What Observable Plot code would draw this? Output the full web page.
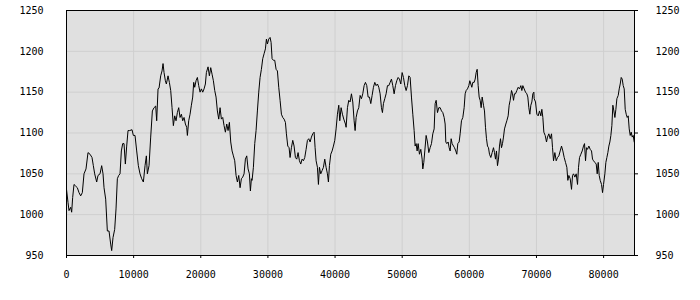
<!DOCTYPE html>
<html>
<head>
<meta charset="utf-8">
<script src="https://cdn.jsdelivr.net/npm/d3@7"></script>
<script src="https://cdn.jsdelivr.net/npm/@observablehq/plot@0.6"></script>
<style>
  html, body { margin: 0; padding: 0; background: #ffffff; }
  #chart svg { display: block; }
</style>
</head>
<body>
<div id="chart"></div>
<script>
// Tick values
const xTicks = [0, 10000, 20000, 30000, 40000, 50000, 60000, 70000, 80000];
const yTicks = [950, 1000, 1050, 1100, 1150, 1200, 1250];

// Series values, as [x, value] pairs, in six stretches
const walk1 = [[0,1031],[224,1015],[373,1005],[621,1009],[770,1003],[919,1021],[1118,1037],[1366,1035],[1614,1033],[1863,1027],[2111,1023],[2359,1027],[2608,1050],[2906,1056],[3204,1076],[3502,1074],[3800,1070],[3998,1060],[4197,1050],[4495,1040],[4694,1048],[4992,1050],[5240,1060],[5439,1050],[5588,1033],[5836,1019],[6084,980],[6333,980],[6581,964],[6730,956],[6929,972],[7177,982],[7376,1007],[7574,1044],[7773,1048],[7972,1050],[8170,1078],[8369,1087],[8568,1087],[8766,1062],[8965,1084],[9164,1103],[9412,1103],[9760,1104],[9958,1097],[10207,1097],[10455,1078],[10703,1060],[10952,1050],[11200,1044],[11448,1040],[11697,1060],[11895,1072],[12044,1050],[12293,1060],[12541,1095],[12789,1127],[13038,1131],[13286,1133],[13435,1115]];
const walk2 = [[13634,1154],[13783,1155],[14031,1170],[14230,1176],[14379,1185],[14528,1174],[14726,1164],[14875,1160],[15124,1170],[15322,1162],[15521,1152],[15720,1131],[15918,1109],[16117,1121],[16316,1115],[16514,1125],[16713,1131],[16912,1119],[17110,1123],[17309,1115],[17508,1119],[17706,1111],[17905,1107],[18004,1097],[18203,1115],[18402,1123],[18600,1134],[18799,1144],[18948,1162],[19097,1156],[19296,1164],[19494,1168],[19693,1158],[19892,1150],[20090,1154],[20289,1150],[20488,1154],[20686,1160],[20835,1174],[21084,1181],[21282,1170],[21481,1180],[21680,1172],[21878,1164],[22077,1152],[22276,1144],[22474,1127],[22673,1117],[22872,1131],[23070,1117],[23269,1119],[23468,1109],[23666,1101],[23865,1111],[24064,1103],[24262,1113],[24461,1089],[24660,1078],[24858,1072],[25057,1066],[25256,1048],[25454,1040],[25653,1048],[25852,1033],[26050,1044],[26249,1046],[26448,1050],[26646,1068],[26845,1072],[27044,1056],[27242,1050],[27391,1029],[27540,1044]];
const walk3 = [[27640,1042],[27838,1058],[28037,1087],[28236,1103],[28434,1127],[28633,1150],[28832,1168],[29030,1178],[29229,1191],[29428,1197],[29626,1203],[29775,1215],[29924,1209],[30123,1215],[30322,1217],[30471,1211],[30620,1191],[30818,1189],[31017,1189],[31216,1178],[31414,1176],[31613,1156],[31812,1140],[32010,1123],[32209,1119],[32408,1117],[32606,1113],[32755,1099],[32954,1084],[33153,1082],[33302,1070],[33500,1082],[33699,1091],[33898,1084],[34096,1070],[34295,1068],[34494,1076],[34692,1066],[34891,1062],[35090,1068],[35288,1066],[35487,1070],[35686,1080],[35884,1091],[36083,1093],[36282,1089],[36480,1095],[36679,1099],[36878,1101],[37027,1082],[37176,1066],[37374,1058],[37523,1037],[37672,1058],[37871,1050],[38070,1054],[38268,1058],[38467,1068],[38666,1058],[38864,1050],[39013,1040],[39162,1060],[39361,1074],[39560,1078],[39758,1084],[39957,1091],[40156,1105],[40354,1123],[40553,1134],[40702,1115],[40901,1131],[41099,1123],[41298,1117],[41546,1111]];
const walk4 = [[41646,1107],[41844,1131],[42043,1140],[42242,1138],[42440,1148],[42639,1138],[42838,1115],[42987,1103],[43136,1119],[43334,1127],[43533,1131],[43732,1146],[43930,1142],[44129,1148],[44328,1158],[44526,1162],[44725,1158],[44924,1144],[45122,1144],[45321,1136],[45520,1146],[45718,1156],[45917,1162],[46116,1158],[46314,1160],[46513,1156],[46712,1148],[46910,1131],[47059,1125],[47208,1136],[47407,1142],[47606,1148],[47804,1158],[48003,1158],[48202,1162],[48400,1166],[48599,1158],[48798,1148],[48996,1158],[49195,1164],[49394,1168],[49592,1166],[49791,1160],[49990,1174],[50188,1168],[50387,1158],[50586,1152],[50784,1158],[50983,1170],[51182,1168],[51380,1144],[51579,1123],[51778,1103],[51927,1084],[52076,1087],[52225,1078],[52374,1087],[52572,1074],[52771,1080],[52970,1068],[53069,1056],[53218,1064],[53367,1078],[53566,1097],[53764,1089],[53963,1076],[54162,1082],[54360,1087],[54559,1099],[54758,1105],[54907,1136],[55056,1140],[55254,1125],[55453,1131]];
const walk5 = [[55652,1131],[55850,1127],[56049,1125],[56248,1119],[56397,1111],[56496,1089],[56645,1087],[56844,1089],[56993,1082],[57142,1078],[57291,1093],[57440,1087],[57637,1084],[57786,1082],[57985,1078],[58134,1074],[58283,1087],[58483,1089],[58632,1099],[58830,1115],[59029,1119],[59228,1131],[59377,1148],[59526,1152],[59724,1154],[59923,1158],[60072,1164],[60221,1160],[60370,1156],[60519,1162],[60718,1162],[60867,1166],[61016,1174],[61165,1178],[61314,1158],[61463,1144],[61612,1140],[61761,1131],[61910,1144],[62108,1134],[62257,1127],[62406,1107],[62555,1093],[62704,1084],[62853,1082],[63002,1074],[63201,1070],[63400,1076],[63598,1082],[63747,1076],[63896,1068],[64045,1078],[64194,1060],[64343,1068],[64492,1084],[64641,1093],[64790,1082],[64939,1087],[65088,1095],[65237,1105],[65436,1111],[65585,1115],[65784,1121],[65933,1134],[66082,1140],[66280,1152],[66429,1148],[66578,1140],[66727,1148],[66876,1148],[67075,1152],[67274,1156],[67472,1154],[67671,1158],[67820,1152],[67969,1158],[68168,1154],[68366,1150],[68565,1148],[68714,1144],[68863,1131],[69012,1123],[69161,1134],[69310,1138],[69459,1148],[69608,1150]];
const walk6 = [[69658,1142],[69856,1138],[70055,1123],[70254,1121],[70452,1127],[70651,1121],[70800,1129],[70949,1119],[71098,1101],[71297,1097],[71495,1089],[71644,1095],[71843,1099],[72042,1093],[72240,1099],[72389,1082],[72538,1066],[72737,1076],[72936,1066],[73134,1070],[73333,1072],[73532,1078],[73730,1084],[73929,1078],[74128,1070],[74326,1064],[74525,1058],[74674,1042],[74823,1048],[75022,1044],[75220,1031],[75369,1048],[75518,1050],[75717,1046],[75916,1050],[76114,1037],[76263,1058],[76412,1070],[76611,1074],[76810,1078],[77008,1084],[77157,1087],[77306,1066],[77455,1082],[77604,1080],[77803,1084],[78002,1080],[78200,1078],[78349,1068],[78498,1066],[78697,1064],[78896,1062],[79045,1050],[79194,1064],[79343,1048],[79492,1042],[79690,1037],[79839,1027],[79988,1037],[80187,1050],[80336,1064],[80485,1070],[80634,1076],[80783,1084],[80932,1089],[81081,1097],[81230,1109],[81379,1134],[81528,1127],[81677,1119],[81826,1129],[81975,1142],[82174,1146],[82323,1154],[82472,1160],[82621,1168],[82770,1166],[82919,1158],[83068,1154],[83217,1129],[83366,1123],[83515,1119],[83664,1121],[83813,1105],[83962,1097],[84111,1101],[84260,1095],[84409,1097],[84558,1089]];

const data = [walk1, walk2, walk3, walk4, walk5, walk6].flat().map(([x, y]) => ({x, y}));

const chart = Plot.plot({
  width: 700,
  height: 300,
  marginLeft: 66,
  marginRight: 66,
  marginTop: 10,
  marginBottom: 45,
  style: { fontFamily: "'DejaVu Sans Mono', monospace", fontSize: "10px", background: "#ffffff", color: "#000000" },
  x: { domain: [0, 84600], label: null },
  y: { domain: [950, 1250], label: null },
  marks: [
    Plot.frame({ fill: "#e0e0e0" }),
    Plot.gridX(xTicks, { stroke: "#cfcfcf", strokeOpacity: 1 }),
    Plot.gridY(yTicks, { stroke: "#cfcfcf", strokeOpacity: 1 }),
    Plot.line(data, { x: "x", y: "y", stroke: "#000000", strokeWidth: 1 }),
    Plot.frame({ stroke: "#000000" }),
    Plot.axisY(yTicks, { anchor: "left", tickSize: 0, tickPadding: 23, tickFormat: "d", label: null }),
    Plot.axisY(yTicks, { anchor: "right", tickSize: 3, tickPadding: 18, tickFormat: "d", label: null }),
    Plot.axisX(xTicks, { anchor: "bottom", tickSize: 3, tickPadding: 12, tickFormat: "d", label: null })
  ]
});
document.getElementById("chart").appendChild(chart);
</script>
</body>
</html>
